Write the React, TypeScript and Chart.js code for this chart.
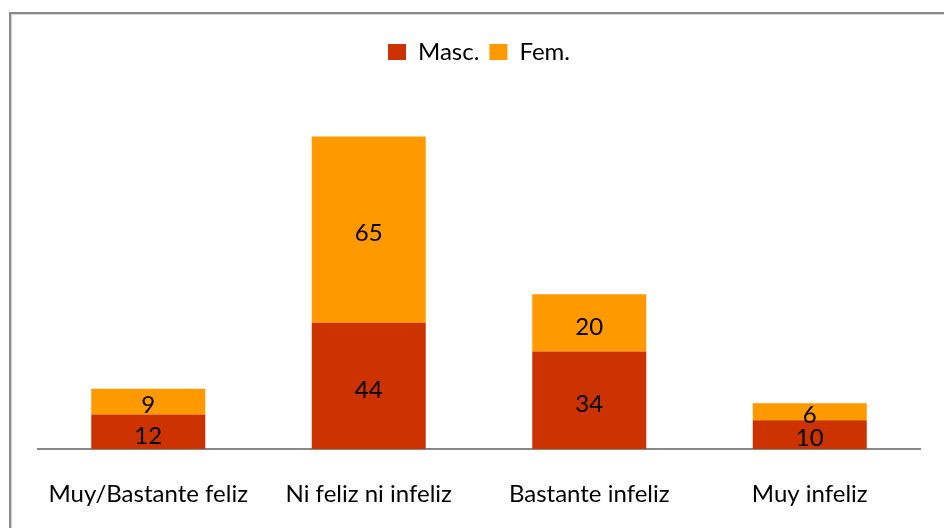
import React, { useEffect, useRef } from "react";
import { Chart, registerables } from "chart.js";

Chart.register(...registerables);

const categories = ["Muy/Bastante feliz", "Ni feliz ni infeliz", "Bastante infeliz", "Muy infeliz"];
const seriesNames = ["Masc.", "Fem."];
const mascValues = [12, 44, 34, 10];
const femValues = [9, 65, 20, 6];
const seriesColors = ["#CC3300", "#FF9900"];
const yMax = 120;

const FONT = "Lato, 'Open Sans', sans-serif";

const valueLabels = {
  id: "valueLabels",
  afterDatasetsDraw(chart: any) {
    const ctx = chart.ctx;
    ctx.save();
    ctx.font = `24px ${FONT}`;
    ctx.fillStyle = "#000000";
    ctx.textAlign = "center";
    ctx.textBaseline = "middle";
    chart.data.datasets.forEach((ds: any, i: number) => {
      const meta = chart.getDatasetMeta(i);
      meta.data.forEach((bar: any, j: number) => {
        const p = bar.getProps(["x", "y", "base"], true);
        ctx.fillText(String(ds.data[j]), p.x, (p.y + p.base) / 2 + 4);
      });
    });
    ctx.restore();
  },
};

const legendSpacer = {
  id: "legendSpacer",
  beforeInit(chart: any) {
    const legend = chart.legend;
    if (!legend) return;
    const origFit = legend.fit;
    legend.fit = function () {
      origFit.call(this);
      this.height += 31;
    };
  },
};

export default function App() {
  const ref = useRef<HTMLCanvasElement | null>(null);

  useEffect(() => {
    if (!ref.current) return;
    const chart = new Chart(ref.current, {
      type: "bar",
      data: {
        labels: categories,
        datasets: [
          { label: seriesNames[0], data: mascValues, backgroundColor: seriesColors[0], borderWidth: 0 },
          { label: seriesNames[1], data: femValues, backgroundColor: seriesColors[1], borderWidth: 0 },
        ],
      },
      options: {
        responsive: false,
        animation: false,
        events: [],
        layout: { padding: { left: 38, right: 24, top: 30, bottom: 19 } },
        datasets: {
          bar: { categoryPercentage: 1, barPercentage: 0.517 },
        },
        plugins: {
          legend: {
            display: true,
            position: "top",
            labels: {
              boxWidth: 18,
              boxHeight: 16,
              padding: 10,
              color: "#000000",
              font: { family: FONT, size: 24 },
            },
          },
          tooltip: { enabled: false },
          title: { display: false },
        },
        scales: {
          x: {
            stacked: true,
            grid: { display: false, drawTicks: false },
            border: { display: true, color: "#888888", width: 2 },
            ticks: {
              color: "#000000",
              padding: 31,
              font: { family: FONT, size: 24 },
              maxRotation: 0,
              autoSkip: false,
            },
            afterFit(scale: any) {
              scale.height = 60;
            },
          },
          y: {
            stacked: true,
            display: false,
            min: 0,
            max: yMax,
          },
        },
      },
      plugins: [valueLabels, legendSpacer],
    } as any);
    return () => chart.destroy();
  }, []);

  return (
    <div style={{ position: "fixed", left: 0, top: 0, width: 944, height: 528, overflow: "hidden", background: "#ffffff" }}>
      <div
        style={{
          position: "absolute",
          left: 9,
          top: 12,
          width: 1000,
          height: 600,
          borderLeft: "2px solid #8a8a8a",
          borderTop: "2px solid #8a8a8a",
          boxShadow: "inset 1px 1px 0 #d6d6d6",
        }}
      />
      <canvas ref={ref} width={944} height={528} style={{ position: "absolute", left: 0, top: 0, width: 944, height: 528 }} />
    </div>
  );
}
